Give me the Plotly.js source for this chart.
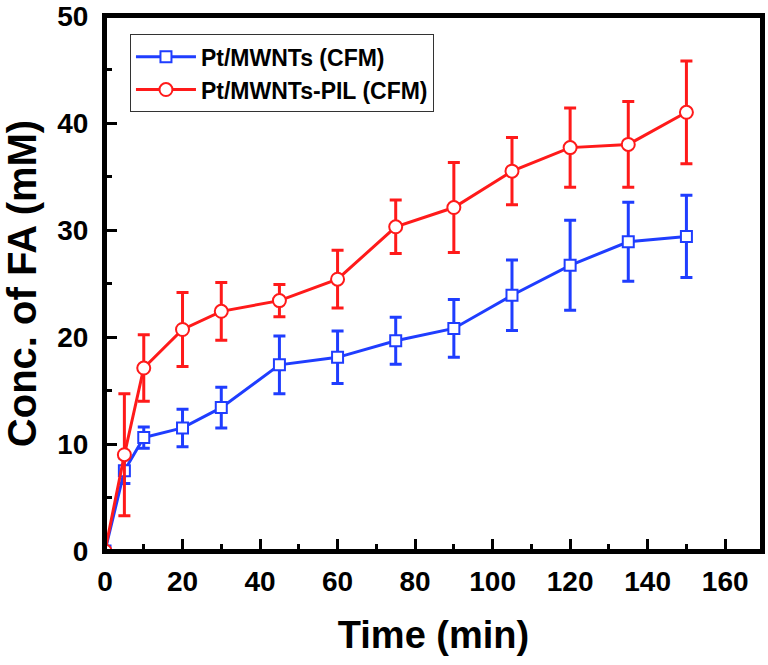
<!DOCTYPE html>
<html>
<head>
<meta charset="utf-8">
<script src="https://cdn.plot.ly/plotly-3.0.1.min.js"></script>
<style>html,body{margin:0;padding:0;background:#fff;}#chart{width:768px;height:665px;}</style>
</head>
<body>
<div id="chart"></div>
<script>
// Data
const timeMin = [0, 5, 10, 20, 30, 45, 60, 75, 90, 105, 120, 135, 150];
const ptMWNTs = [0, 7.5, 10.6, 11.5, 13.4, 17.4, 18.1, 19.65, 20.8, 23.9, 26.7, 28.9, 29.4];
const ptMWNTsErr = [0, 1.2, 1.0, 1.75, 1.9, 2.7, 2.45, 2.2, 2.7, 3.3, 4.2, 3.7, 3.85];
const ptMWNTsPIL = [0, 9.0, 17.1, 20.7, 22.4, 23.4, 25.4, 30.3, 32.1, 35.5, 37.7, 38.0, 41.0];
const ptMWNTsPILErr = [0, 5.7, 3.1, 3.45, 2.7, 1.5, 2.7, 2.5, 4.2, 3.15, 3.7, 4.0, 4.8];
const seriesNames = ['Pt/MWNTs (CFM)', 'Pt/MWNTs-PIL (CFM)'];
const xTitle = 'Time (min)';
const yTitle = 'Conc. of FA (mM)';

const BLUE = '#1f3dff';
const RED = '#ff1a1a';
const FONT = 'Liberation Sans, Arial, sans-serif';

const traces = [
  {
    x: timeMin, y: ptMWNTs, name: seriesNames[0], type: 'scatter', mode: 'lines+markers',
    line: {color: BLUE, width: 3},
    marker: {symbol: 'square', size: 11, color: '#ffffff', line: {color: BLUE, width: 2}},
    error_y: {type: 'data', array: ptMWNTsErr, visible: true, color: BLUE, thickness: 3, width: 6}
  },
  {
    x: timeMin, y: ptMWNTsPIL, name: seriesNames[1], type: 'scatter', mode: 'lines+markers',
    line: {color: RED, width: 3},
    marker: {symbol: 'circle', size: 13, color: '#ffffff', line: {color: RED, width: 2}},
    error_y: {type: 'data', array: ptMWNTsPILErr, visible: true, color: RED, thickness: 3, width: 6}
  }
];

const axisCommon = {
  showline: true, linecolor: '#000', linewidth: 3, mirror: true,
  ticks: 'inside', ticklen: 12, tickwidth: 3, tickcolor: '#000',
  showgrid: false, zeroline: false,
  ticklabeloverflow: 'allow',
  tickfont: {family: FONT, size: 28, color: '#000', weight: 'bold'}
};

const layout = {
  width: 768, height: 665,
  margin: {l: 105, r: 6, t: 16, b: 114},
  paper_bgcolor: '#fff', plot_bgcolor: '#fff',
  showlegend: true,
  legend: {
    x: 0.038, y: 0.966, xanchor: 'left', yanchor: 'top',
    bgcolor: '#fff', bordercolor: '#333', borderwidth: 1,
    font: {family: FONT, size: 23, color: '#000', weight: 'bold'},
    tracegroupgap: 0, itemwidth: 60
  },
  shapes: [{
    type: 'rect', xref: 'paper', yref: 'paper', x0: 0, x1: 1, y0: 0, y1: 1,
    line: {color: '#000000', width: 4}, fillcolor: 'rgba(0,0,0,0)', layer: 'above'
  }],
  xaxis: Object.assign({}, axisCommon, {
    range: [0, 169.5], tickmode: 'linear', tick0: 0, dtick: 20,
    minor: {dtick: 10, ticks: 'inside', ticklen: 7, tickwidth: 3, tickcolor: '#000'},
    ticklabelstandoff: 3,
    title: {text: xTitle, font: {family: FONT, size: 38, color: '#000', weight: 'bold'}, standoff: 26}
  }),
  yaxis: Object.assign({}, axisCommon, {
    range: [0, 50], tickmode: 'linear', tick0: 0, dtick: 10,
    minor: {dtick: 5, ticks: 'inside', ticklen: 7, tickwidth: 3, tickcolor: '#000'},
    ticklabelstandoff: 8,
    title: {text: yTitle, font: {family: FONT, size: 40, color: '#000', weight: 'bold'}, standoff: 10}
  })
};

Plotly.newPlot('chart', traces, layout, {displayModeBar: false, staticPlot: true});
</script>
</body>
</html>
